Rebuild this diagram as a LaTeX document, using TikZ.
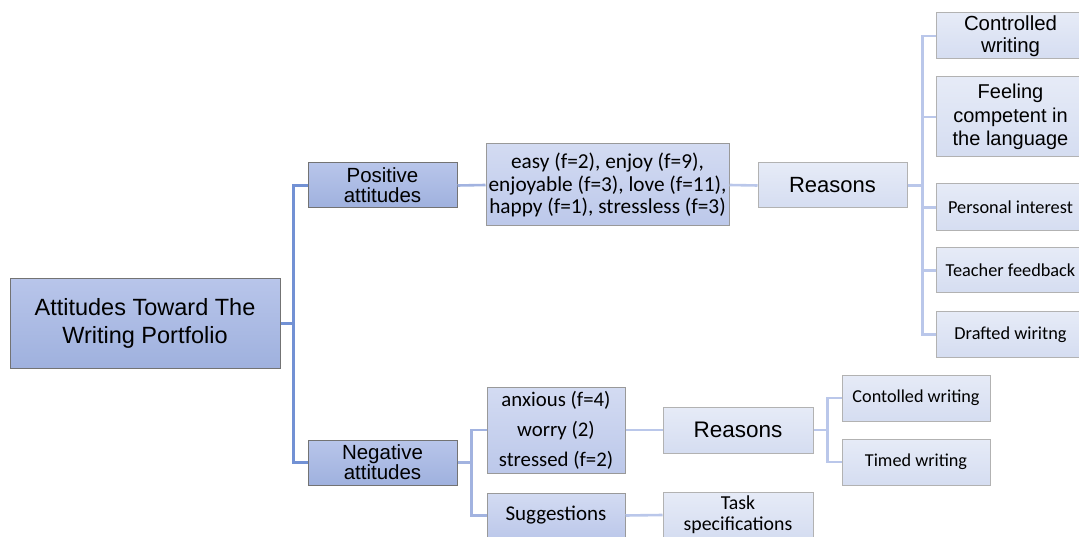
\documentclass[tikz,border=0pt]{standalone}
\usepackage{fontspec}
\setmainfont{Liberation Sans}
\newfontfamily\carlito{Carlito}
\definecolor{lineA}{HTML}{7291D4}
\definecolor{lineB}{HTML}{A2B3E0}
\definecolor{lineC}{HTML}{BAC7EA}
\definecolor{fillAt}{HTML}{B8C5EA}
\definecolor{fillAb}{HTML}{9FB1DE}
\definecolor{fillBt}{HTML}{D3DBF2}
\definecolor{fillBb}{HTML}{BCC8EA}
\definecolor{fillCt}{HTML}{E6EBF7}
\definecolor{fillCb}{HTML}{D5DDF1}
\begin{document}
\begin{tikzpicture}[x=1pt,y=-1pt,
  box/.style={rectangle, inner sep=0pt, align=center, text=black},
  lvA/.style={box, draw=black!55, line width=1pt, top color=fillAt, bottom color=fillAb},
  lvB/.style={box, draw=black!40, line width=1pt, top color=fillBt, bottom color=fillBb},
  lvC/.style={box, draw=black!30, line width=1pt, top color=fillCt, bottom color=fillCb},
  conA/.style={draw=lineA, line width=2.6pt},
  conB/.style={draw=lineB, line width=2.6pt},
  conC/.style={draw=lineC, line width=2.6pt}]
\useasboundingbox (0,0) rectangle (1079,537);

% root and first level
\node[lvA, minimum width=270pt, minimum height=89pt, font=\fontsize{23.5}{27.5}\selectfont]
  (root) at (145,323.5) {Attitudes Toward The\\Writing Portfolio};
\node[lvA, minimum width=149pt, minimum height=45pt, font=\fontsize{20.5}{20}\selectfont]
  (pos) at (382.5,185.5) {Positive\\attitudes};
\node[lvA, minimum width=149pt, minimum height=45pt, font=\fontsize{20.5}{20}\selectfont]
  (neg) at (382.5,462.5) {Negative\\attitudes};

% positive branch
\node[lvB, minimum width=243pt, minimum height=82pt, font=\carlito\fontsize{21.3}{22.5}\selectfont]
  (words) at (607.5,185) {easy (f=2), enjoy (f=9),\\enjoyable (f=3), love (f=11),\\happy (f=1), stressless (f=3)};
\node[lvC, minimum width=149pt, minimum height=45pt, font=\fontsize{22}{24}\selectfont]
  (reasA) at (832.5,185.5) {Reasons};
\node[lvC, minimum width=149pt, minimum height=46pt, font=\fontsize{20.4}{21.5}\selectfont]
  (c1) at (1010.5,36) {Controlled\\writing};
\node[lvC, minimum width=149pt, minimum height=80pt, font=\fontsize{20}{23.5}\selectfont]
  (c2) at (1010.5,117) {Feeling\\competent in\\the language};
\node[lvC, minimum width=149pt, minimum height=47pt, font=\carlito\fontsize{18.3}{20}\selectfont]
  (c3) at (1010.5,207.5) {Personal interest};
\node[lvC, minimum width=149pt, minimum height=45pt, font=\carlito\fontsize{18.3}{20}\selectfont]
  (c4) at (1010.5,270.5) {Teacher feedback};
\node[lvC, minimum width=149pt, minimum height=45pt, font=\carlito\fontsize{18.3}{20}\selectfont]
  (c5) at (1010.5,334.5) {Drafted wiritng};

% negative branch
\node[lvB, minimum width=138pt, minimum height=86pt, font=\carlito\fontsize{20.8}{30}\selectfont]
  (nwords) at (556,430) {anxious (f=4)\\worry (2)\\stressed (f=2)};
\node[lvB, minimum width=138pt, minimum height=45pt, font=\carlito\fontsize{21}{22}\selectfont]
  (sugg) at (556,515.5) {Suggestions};
\node[lvC, minimum width=150pt, minimum height=46pt, font=\fontsize{22.5}{24}\selectfont]
  (reasB) at (738,430) {Reasons};
\node[lvC, minimum width=150pt, minimum height=46pt, font=\carlito\fontsize{19.8}{21}\selectfont]
  (task) at (738,515) {Task\\specifications};
\node[lvC, minimum width=148pt, minimum height=46pt, font=\carlito\fontsize{18.2}{20}\selectfont]
  (tw1) at (916,398) {Contolled writing};
\node[lvC, minimum width=148pt, minimum height=46pt, font=\carlito\fontsize{18.2}{20}\selectfont]
  (tw2) at (916,462) {Timed writing};

% connectors
\draw[conA] (root.east) -- ++(13,0) |- (pos.west);
\draw[conA] (root.east) -- ++(13,0) |- (neg.west);
\draw[conB] (pos.east) -- (words.west);
\draw[conB] (neg.east) -- ++(14,0) |- (nwords.west);
\draw[conB] (neg.east) -- ++(14,0) |- (sugg.west);
\draw[conC] (words.east) -- (reasA.west);
\draw[conC] (nwords.east) -- (reasB.west);
\draw[conC] (sugg.east) -- (task.west);
\foreach \t in {c1,c2,c3,c4,c5}
  \draw[conC] (reasA.east) -- ++(15,0) |- (\t.west);
\foreach \t in {tw1,tw2}
  \draw[conC] (reasB.east) -- ++(14,0) |- (\t.west);
\end{tikzpicture}
\end{document}
